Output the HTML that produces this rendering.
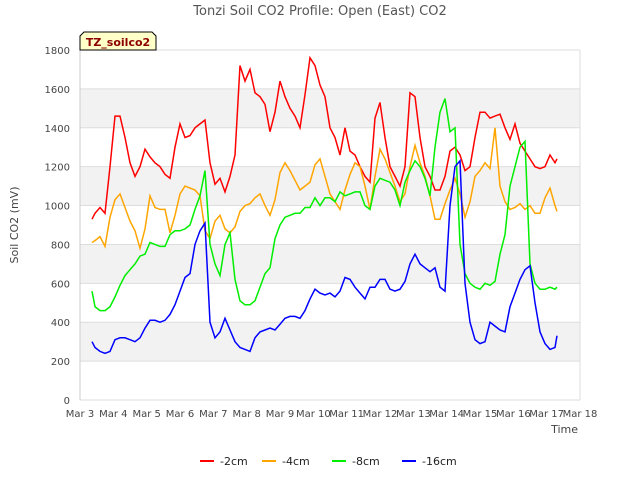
<!DOCTYPE html>
<html><head><meta charset="utf-8"><style>
body{margin:0;background:#fff;font-family:"Liberation Sans","DejaVu Sans",sans-serif}
</style></head><body>
<svg id="chart" width="640" height="480" xmlns="http://www.w3.org/2000/svg" font-family="DejaVu Sans, Liberation Sans, sans-serif">
<rect width="640" height="480" fill="#fff"/>
<text x="320" y="15" text-anchor="middle" font-size="13" fill="#555">Tonzi Soil CO2 Profile: Open (East) CO2</text>
<g id="grid"></g>
<g id="series"></g>
<g id="axes"></g>
<text transform="translate(18,225) rotate(-90)" text-anchor="middle" font-size="11" fill="#444">Soil CO2 (mV)</text>
<text x="578" y="433" text-anchor="end" font-size="11" fill="#444">Time</text>
<g>
<path d="M80,50 L80,36 L84,32 L152,32 L156,36 L156,50 Z" fill="#ffffc8" stroke="#000" stroke-width="1"/>
<text x="118" y="46" text-anchor="middle" font-size="11" font-weight="bold" fill="#8b0000">TZ_soilco2</text>
</g>
<g id="legend"></g>
</svg>
<script>
const xTicks=["Mar 3","Mar 4","Mar 5","Mar 6","Mar 7","Mar 8","Mar 9","Mar 10","Mar 11","Mar 12","Mar 13","Mar 14","Mar 15","Mar 16","Mar 17","Mar 18"];
const yTicks=[0,200,400,600,800,1000,1200,1400,1600,1800];
const seriesNames=["-2cm","-4cm","-8cm","-16cm"];
const seriesColors=["#ff0000","#ffa500","#00ee00","#0000ff"];
const timePx=[92,95];for(let x=100;x<=555;x+=5)timePx.push(x);timePx.push(557);
const times=timePx.map(x=>(x-80)/(100/3));
const d2cm=[930,960,990,960,1200,1460,1460,1350,1220,1150,1200,1290,1250,1220,1200,1160,1140,1300,1420,1350,1360,1400,1420,1440,1220,1110,1140,1070,1150,1260,1720,1640,1700,1580,1560,1520,1380,1480,1640,1560,1500,1460,1400,1570,1760,1720,1620,1560,1400,1350,1260,1400,1280,1260,1200,1150,1120,1450,1530,1350,1200,1150,1100,1200,1580,1560,1350,1200,1150,1080,1080,1150,1280,1300,1260,1180,1200,1350,1480,1480,1450,1460,1470,1400,1340,1420,1320,1280,1240,1200,1190,1200,1260,1220,1240];
const d4cm=[810,820,840,790,940,1030,1060,990,920,870,780,880,1050,990,980,980,860,950,1060,1100,1090,1080,1050,870,830,920,950,880,860,890,970,1000,1010,1040,1060,1000,950,1030,1170,1220,1180,1130,1080,1100,1120,1210,1240,1150,1060,1020,980,1080,1160,1220,1200,1100,980,1150,1290,1240,1170,1100,1020,1060,1200,1310,1220,1150,1050,930,930,1010,1080,1140,1060,940,1020,1150,1180,1220,1190,1400,1100,1020,980,990,1010,980,1000,960,960,1040,1090,1000,970];
const d8cm=[560,480,460,460,480,530,590,640,670,700,740,750,810,800,790,790,850,870,870,880,900,980,1050,1180,800,700,640,800,860,620,510,490,490,510,580,650,680,830,900,940,950,960,960,990,990,1040,1000,1040,1040,1020,1070,1050,1060,1070,1070,1000,980,1100,1140,1130,1120,1080,1000,1120,1180,1230,1200,1140,1050,1300,1480,1550,1380,1400,800,650,600,580,570,600,590,610,750,850,1100,1200,1300,1330,700,600,570,570,580,570,580];
const d16cm=[300,270,250,240,250,310,320,320,310,300,320,370,410,410,400,410,440,490,560,630,650,800,870,910,400,320,350,420,360,300,270,260,250,320,350,360,370,360,390,420,430,430,420,460,520,570,550,540,550,530,560,630,620,580,550,520,580,580,620,620,570,560,570,610,700,750,700,680,660,680,580,560,1000,1200,1230,600,400,310,290,300,400,380,360,350,480,550,620,670,690,500,350,290,260,270,330];
const allData=[d2cm,d4cm,d8cm,d16cm];
const L=80,R=580,T=50,B=400;
const xs=d=>L+d*(R-L)/15, ys=v=>B-v*(B-T)/1800;
const NS="http://www.w3.org/2000/svg";
function mk(tag,attrs,parent){const e=document.createElementNS(NS,tag);for(const k in attrs)e.setAttribute(k,attrs[k]);parent.appendChild(e);return e;}
const grid=document.getElementById('grid'),axes=document.getElementById('axes'),ser=document.getElementById('series'),leg=document.getElementById('legend');
for(let i=0;i<yTicks.length-1;i++){if(i%2===1){const r=mk('rect',{x:L,y:ys(yTicks[i+1]),width:R-L,height:ys(yTicks[i])-ys(yTicks[i+1]),fill:'#f2f2f2'},grid);

}}
yTicks.forEach(v=>{const l=mk('line',{x1:L,x2:R,y1:ys(v),y2:ys(v),stroke:'#ddd'},grid);


const t=mk('text',{x:L-10,y:ys(v)+4,'text-anchor':'end','font-size':10,fill:'#444'},axes);t.textContent=v;

});
mk('line',{x1:L,x2:L,y1:T,y2:B,stroke:'#ccc'},grid);mk('line',{x1:R,x2:R,y1:T,y2:B,stroke:'#ddd'},grid);
xTicks.forEach((s,i)=>{const t=mk('text',{x:xs(i),y:B+17,'text-anchor':'middle','font-size':10,fill:'#444'},axes);t.textContent=s;

});
allData.forEach((d,si)=>{const p=mk('polyline',{points:d.map((v,i)=>xs(times[i]).toFixed(1)+','+ys(v).toFixed(1)).join(' '),fill:'none',stroke:seriesColors[si],'stroke-width':1.5},ser);

});
const lx=[200,262,332,402];
seriesNames.forEach((n,i)=>{const g=mk('g',{},leg);


mk('line',{x1:lx[i],x2:lx[i]+14,y1:461,y2:461,stroke:seriesColors[i],'stroke-width':2},g);
const t=mk('text',{x:lx[i]+20,y:465,'font-size':11,fill:'#222'},g);t.textContent=n;});
</script>
</body></html>
